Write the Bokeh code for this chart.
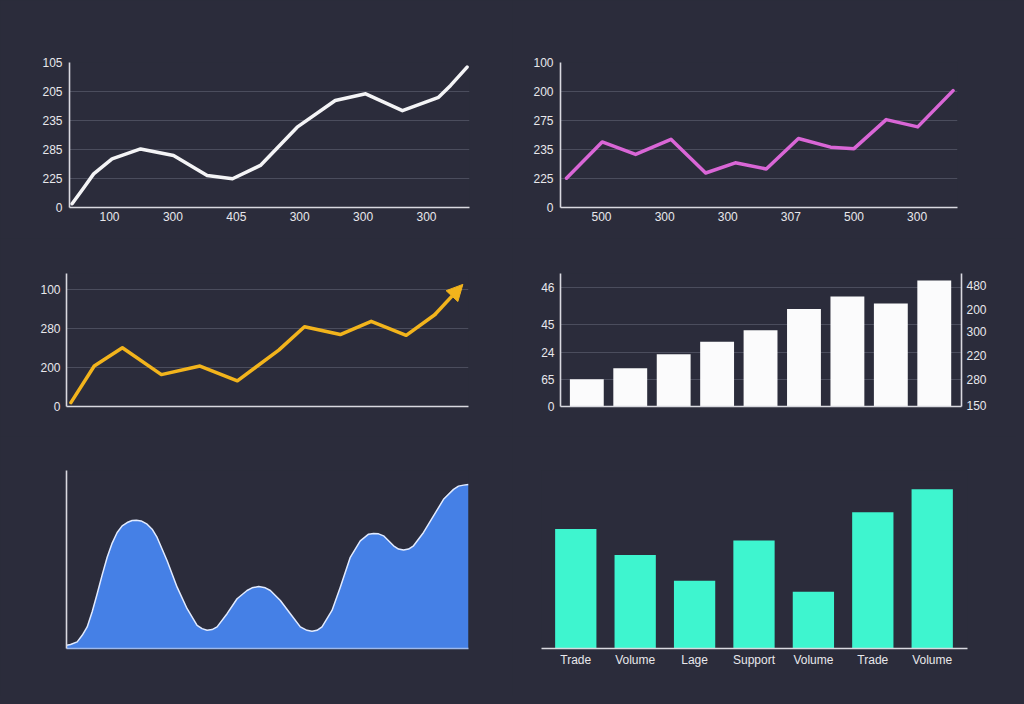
from bokeh.plotting import figure
from bokeh.layouts import column, row
from bokeh.models import (Range1d, LinearAxis, FixedTicker, Arrow, NormalHead,
                          GlobalInlineStyleSheet)
from bokeh.embed import file_html
from bokeh.resources import INLINE

BG = "#2b2c3b"
GRID = "#4b4d5d"
AXIS = "#d9d9e0"
LABEL = "#e8e8ec"
FONT = "Liberation Sans"
FS = "12px"

WHITE_LINE = "#f4f4f6"
MAGENTA = "#d966d6"
YELLOW = "#f2b41c"
BLUE = "#4580e6"
BLUE_EDGE = "#e2ebff"
BAR_WHITE = "#fbfbfc"
CYAN = "#3ef5cf"

# ---------------- Panel 1 (white line) ----------------
p1_x = [0.41, 0.60, 0.75, 1.04, 1.49, 2.01, 2.54, 2.94, 3.38, 3.96, 4.56, 5.04, 5.62, 6.19, 6.38, 6.64]
p1_y = [0.13, 0.70, 1.16, 1.68, 2.02, 1.79, 1.10, 0.99, 1.45, 2.77, 3.69, 3.92, 3.34, 3.80, 4.21, 4.84]
p1_xticks = [1, 2, 3, 4, 5, 6]
p1_xlabels = ["100", "300", "405", "300", "300", "300"]
p1_yticks = [0, 1, 2, 3, 4, 5]
p1_ylabels = ["0", "225", "285", "235", "205", "105"]

# ---------------- Panel 2 (magenta line) ----------------
p2_x = [0.445, 1.01, 1.54, 2.10, 2.65, 3.12, 3.61, 4.12, 4.63, 5.00, 5.51, 6.01, 6.57]
p2_y = [1.01, 2.26, 1.83, 2.35, 1.19, 1.54, 1.33, 2.38, 2.08, 2.03, 3.03, 2.78, 4.03]
p2_xticks = [1, 2, 3, 4, 5, 6]
p2_xlabels = ["500", "300", "300", "307", "500", "300"]
p2_yticks = [0, 1, 2, 3, 4, 5]
p2_ylabels = ["0", "225", "235", "275", "200", "100"]

# ---------------- Panel 3 (yellow line with arrow) ----------------
p3_x = [1.1, 6.9, 13.9, 23.6, 33.2, 42.5, 52.8, 59.2, 68.1, 75.8, 84.5, 91.6, 98.6]
p3_y = [0.10, 1.04, 1.51, 0.82, 1.04, 0.66, 1.45, 2.05, 1.85, 2.19, 1.83, 2.36, 3.14]
p3_yticks = [0, 1, 2, 3]
p3_ylabels = ["0", "200", "280", "100"]

# ---------------- Panel 4 (white bars, two axes) ----------------
p4_x = [0, 1, 2, 3, 4, 5, 6, 7, 8]
p4_vals = [27.4, 38.4, 52.4, 65.0, 76.4, 97.7, 110.4, 103.4, 126.4]
p4_left_ticks = [0, 27, 54, 82, 119]
p4_left_labels = ["0", "65", "24", "45", "46"]
p4_right_ticks = [1, 27, 51, 75, 97, 121]
p4_right_labels = ["150", "280", "220", "300", "200", "480"]

# ---------------- Panel 5 (blue area) ----------------
p5_x = [0, 4, 10.7, 15.7, 20.7, 25.7, 30.7, 35.7, 40.7, 45.7, 50.7, 55.7, 60.7, 65.7, 70, 74.7, 80.7,
        85.7, 90.7, 100.7, 110.7, 120.7, 130.7, 135.7, 140.7, 145.7, 150.7, 160.7,
        170.7, 180.7, 185.7, 192.3, 199, 204, 214, 224, 234, 240.7, 245.7, 250.7,
        255.7, 265.7, 274, 284, 294, 302.3, 307.3, 312.3, 317.3, 327.3, 332.3, 337.3,
        342.3, 347.3, 357.3, 367.3, 377.3, 387.3, 392.3, 397.3, 402.3]
p5_y = [3.3, 4, 6.7, 13.3, 21.7, 37, 55, 74, 91.7, 106, 116.7, 123.3, 126.7, 128.7, 129, 128.3, 125,
        120, 111.7, 88.3, 61.7, 40, 23.3, 20, 18.3, 19, 21.7, 35,
        50, 58.3, 61, 62.3, 61, 58.3, 48.3, 35, 21.7, 18.3, 17.3, 18.3,
        21.7, 38.3, 61.7, 91.7, 108.3, 115, 115.7, 115.3, 113.3, 103.3, 100, 99,
        100, 103.3, 116.7, 133.3, 150, 160, 163.3, 164.3, 165]

# ---------------- Panel 6 (cyan bars) ----------------
p6_x = [0, 1, 2, 3, 4, 5, 6]
p6_vals = [119.4, 93.4, 67.7, 107.7, 56.7, 136.0, 159.0]
p6_labels = ["Trade", "Volume", "Lage", "Support", "Volume", "Trade", "Volume"]


def make_fig(w, h, xr, yr, left, right, top, bottom):
    p = figure(width=w, height=h, x_range=Range1d(*xr), y_range=Range1d(*yr),
               toolbar_location=None, output_backend="svg",
               min_border_left=left, min_border_right=right,
               min_border_top=top, min_border_bottom=bottom,
               background_fill_color=BG, border_fill_color=BG,
               outline_line_color=None)
    p.xgrid.visible = False
    p.ygrid.grid_line_color = GRID
    p.ygrid.grid_line_width = 1.2
    return p


def style_axis(ax, standoff=5):
    ax.axis_line_color = AXIS
    ax.axis_line_width = 1.6
    ax.major_tick_line_color = None
    ax.minor_tick_line_color = None
    ax.major_tick_out = 0
    ax.major_tick_in = 0
    ax.major_label_text_color = LABEL
    ax.major_label_text_font = FONT
    ax.major_label_text_font_size = FS
    ax.major_label_standoff = standoff


def set_ticks(ax, ticks, labels):
    ax.ticker = FixedTicker(ticks=ticks)
    ax.major_label_overrides = {t: l for t, l in zip(ticks, labels)}


# Panel 1
f1 = make_fig(512, 238, (0.369, 6.678), (0, 5), 69, 43, 62, 31)
for ax in f1.xaxis + f1.yaxis:
    style_axis(ax, 4)
set_ticks(f1.xaxis[0], p1_xticks, p1_xlabels)
set_ticks(f1.yaxis[0], p1_yticks, p1_ylabels)
f1.yaxis[0].major_label_standoff = 7
f1.ygrid.ticker = FixedTicker(ticks=p1_yticks)
f1.line(p1_x, p1_y, line_color=WHITE_LINE, line_width=3.5,
        line_join="round", line_cap="round")

# Panel 2
f2 = make_fig(504, 238, (0.35, 6.64), (0, 5), 48, 59, 62, 31)
for ax in f2.xaxis + f2.yaxis:
    style_axis(ax, 4)
set_ticks(f2.xaxis[0], p2_xticks, p2_xlabels)
set_ticks(f2.yaxis[0], p2_yticks, p2_ylabels)
f2.yaxis[0].major_label_standoff = 7
f2.ygrid.ticker = FixedTicker(ticks=p2_yticks)
f2.line(p2_x, p2_y, line_color=MAGENTA, line_width=3.5,
        line_join="round", line_cap="round")

# Panel 3
f3 = make_fig(512, 198, (0, 100), (0, 3.42), 66, 44, 30, 30)
for ax in f3.xaxis + f3.yaxis:
    style_axis(ax, 6)
f3.xaxis[0].ticker = FixedTicker(ticks=[])
set_ticks(f3.yaxis[0], p3_yticks, p3_ylabels)
f3.ygrid.ticker = FixedTicker(ticks=p3_yticks)
f3.line(p3_x[:-1], p3_y[:-1], line_color=YELLOW, line_width=3.5,
        line_join="round", line_cap="round")
f3.add_layout(Arrow(end=NormalHead(size=16, fill_color=YELLOW, line_color=YELLOW),
                    x_start=p3_x[-2], y_start=p3_y[-2], x_end=p3_x[-1], y_end=p3_y[-1],
                    line_color=YELLOW, line_width=3.5))

# Panel 4
f4 = make_fig(504, 198, (-0.606, 8.627), (0, 133.4), 48, 55, 35, 29)
f4.extra_y_ranges = {"r": Range1d(0, 133.4)}
raxis = LinearAxis(y_range_name="r")
f4.add_layout(raxis, "right")
for ax in f4.xaxis + f4.yaxis:
    style_axis(ax, 6)
f4.xaxis[0].ticker = FixedTicker(ticks=[])
set_ticks(f4.yaxis[0], p4_left_ticks, p4_left_labels)
set_ticks(raxis, p4_right_ticks, p4_right_labels)
raxis.major_label_standoff = 5
f4.ygrid.ticker = FixedTicker(ticks=p4_left_ticks)
f4.vbar(x=p4_x, top=p4_vals, bottom=0, width=0.78, fill_color=BAR_WHITE, line_color=None)

# Panel 5
f5 = make_fig(512, 260, (0, 402.3), (0, 179), 66, 44, 33, 48)
f5.ygrid.visible = False
for ax in f5.xaxis + f5.yaxis:
    style_axis(ax, 5)
    ax.ticker = FixedTicker(ticks=[])
f5.xaxis[0].axis_line_color = "#9db8ec"
f5.varea(x=p5_x, y1=0, y2=p5_y, fill_color=BLUE)
f5.line(p5_x, p5_y, line_color=BLUE_EDGE, line_width=1.5, line_join="round")

# Panel 6
f6 = make_fig(504, 260, (-0.577, 6.594), (0, 177.7), 29, 49, 34, 48)
f6.ygrid.visible = False
f6.yaxis.visible = False
style_axis(f6.xaxis[0], 4)
set_ticks(f6.xaxis[0], p6_x, p6_labels)
f6.vbar(x=p6_x, top=p6_vals, bottom=0, width=0.695, fill_color=CYAN, line_color=None)

layout = column(row(f1, f2), row(f3, f4), row(f5, f6),
                stylesheets=[GlobalInlineStyleSheet(css="html, body { background-color: #2b2c3b; }")])

open("out.html", "w").write(file_html(layout, INLINE))
